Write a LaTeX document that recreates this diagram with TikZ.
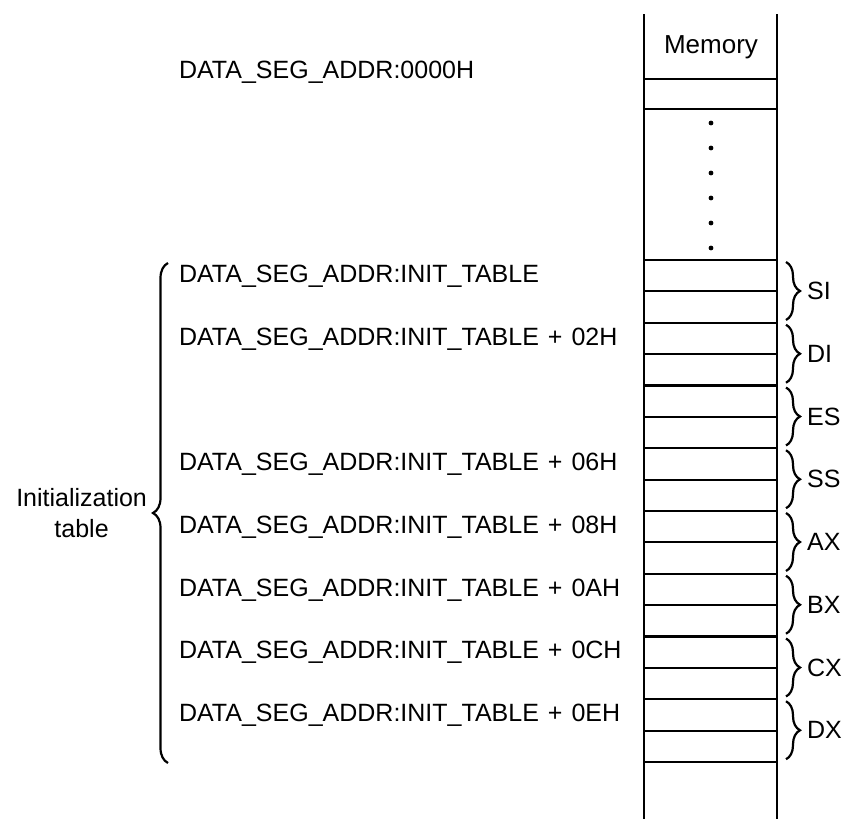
\documentclass[tikz,border=0pt]{standalone}
\usepackage{fontspec}
\setmainfont{Liberation Sans}
\usetikzlibrary{decorations.pathreplacing}
\begin{document}
\begin{tikzpicture}[x=0.5pt, y=-0.5pt, line width=1.1pt,
    font=\fontsize{12.5}{15.5}\selectfont,
    addr/.style={anchor=west, inner sep=0pt},
    regbrace/.style={decorate, decoration={brace, amplitude=7pt}}]
  \useasboundingbox (0,0) rectangle (844,819);
  % memory column
  \draw[line width=1.4pt] (644,14) -- (644,819) (777,14) -- (777,819);
  \node (mem) at (711,47) {\fontsize{13}{15}\selectfont Memory};
  \draw (644,79) -- (777,79) (644,109) -- (777,109);
  \foreach \i in {0,...,16}
    \draw (644,260+31.375*\i) -- (777,260+31.375*\i);
  \foreach \i in {0,...,5}
    \fill (711,123+25*\i) circle[radius=1.2pt];
  % registers
  \foreach \r [count=\i from 0] in {SI,DI,ES,SS,AX,BX,CX,DX} {
    \coordinate (b\i) at (786,262+62.75*\i);
    \coordinate (e\i) at (786,320+62.75*\i);
    \draw[regbrace] (b\i) -- (e\i) node[midway, right=10pt, inner sep=0pt] (\r) {\r};
  }
  % addresses
  \node[addr] (a0) at (178,72) {DATA\_SEG\_ADDR:0000H};
  \node[addr] (t00) at (178,276) {DATA\_SEG\_ADDR:INIT\_TABLE};
  \foreach \k/\o in {1/02,3/06,4/08,5/0A,6/0C,7/0E}
    \node[addr] (t\o) at (178,276+62.75*\k) {DATA\_SEG\_ADDR:INIT\_TABLE\hspace{4.5pt}+\hspace{4.5pt}\o H};
  % table brace
  \coordinate (ttop) at (168,263);
  \coordinate (tbot) at (168,763);
  \draw[decorate, decoration={brace, amplitude=7.5pt}] (tbot) -- (ttop)
    node[midway, left=10pt, inner sep=0pt, align=center] (init) {Initialization\\table};
\end{tikzpicture}
\end{document}
